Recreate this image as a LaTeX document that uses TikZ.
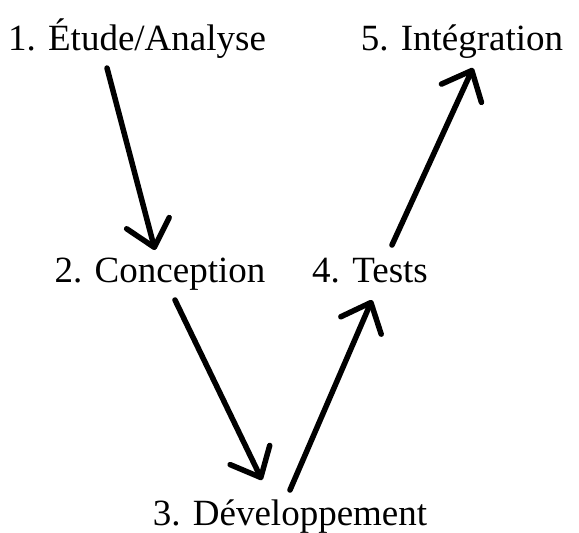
\documentclass[tikz,border=0pt]{standalone}
\usepackage{fontspec}
\setmainfont{Liberation Serif}
\usetikzlibrary{arrows.meta,calc}
\tikzset{
  stage/.style={inner sep=0pt,anchor=base,font=\fontsize{37}{44}\selectfont},
  flow/.style={line width=5.5pt,line cap=round,line join=round,
    -{Straight Barb[length=25pt,width=44pt,line width=5.5pt,round]}}
}
\begin{document}
\begin{tikzpicture}[x=1pt,y=-1pt]
% Frame
\useasboundingbox (0,0) rectangle (579,533);

% Stages
\node[stage] (e1) at (137,50) {1. Étude/Analyse};
\node[stage] (e5) at (462,50) {5. Intégration};
\node[stage] (e2) at (160,282) {2. Conception};
\node[stage] (e4) at (370,282) {4. Tests};
\node[stage] (e3) at (290,525) {3. Développement};

% Arrows down
\draw[flow] ($(e1.base)+(-30,18)$) -- ($(e2.base)+(-5,-32)$);
\draw[flow] ($(e2.base)+(15,18)$) -- ($(e3.base)+(-28,-45)$);

% Arrows up
\draw[flow] ($(e3.base)+(0,-35)$) -- ($(e4.base)+(2,18)$);
\draw[flow] ($(e4.base)+(22,-37)$) -- ($(e5.base)+(11,18)$);
\end{tikzpicture}
\end{document}
